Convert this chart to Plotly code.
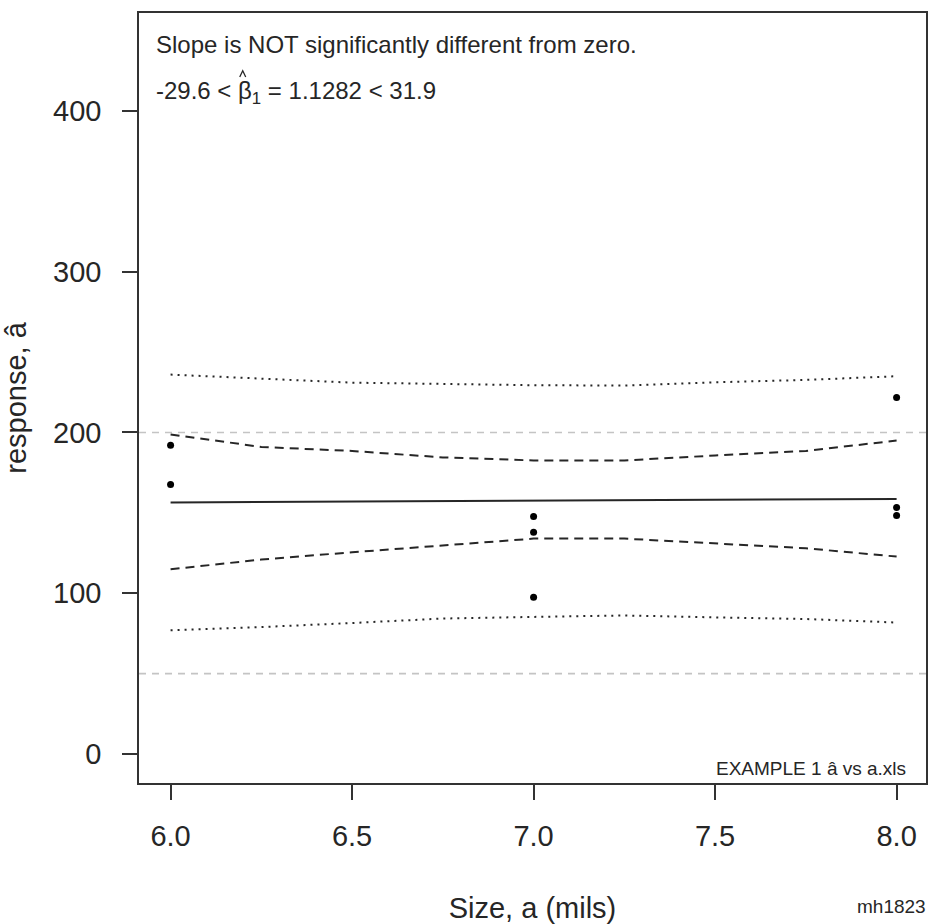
import plotly.graph_objects as go

# Observed responses
size_a = [6.0, 6.0, 7.0, 7.0, 7.0, 8.0, 8.0, 8.0]
response = [192.0, 167.7, 147.8, 138.0, 97.5, 221.7, 153.4, 148.4]

# Fitted line end points
fit_x = [6.0, 8.0]
fit_y = [156.5, 158.7]

# Confidence (dashed) and prediction (dotted) bounds
band_x = [6.0, 6.25, 6.5, 6.75, 7.0, 7.25, 7.5, 7.75, 8.0]
conf_upper = [198.8, 191.0, 188.5, 184.5, 182.6, 182.6, 185.7, 188.5, 195.0]
conf_lower = [114.9, 121.0, 125.5, 129.8, 134.0, 134.0, 131.0, 128.0, 122.8]
pred_upper = [236.0, 233.7, 231.0, 230.2, 229.4, 229.2, 231.2, 232.7, 235.0]
pred_lower = [77.0, 79.0, 81.5, 84.3, 85.3, 86.2, 85.0, 84.0, 81.8]

# Reference levels
ref_levels = [50, 200]

x_ticks = [6.0, 6.5, 7.0, 7.5, 8.0]
y_ticks = [0, 100, 200, 300, 400]

FONT = "Liberation Sans, Arial, sans-serif"
INK = "#262626"

fig = go.Figure()

for lvl in ref_levels:
    fig.add_shape(type="line", xref="paper", x0=0, x1=1.005, yref="y", y0=lvl, y1=lvl,
                  line=dict(color="#c4c4c4", width=1.6, dash="7px,6px"), layer="below")

fig.add_trace(go.Scatter(x=band_x, y=pred_upper, mode="lines",
                         line=dict(color=INK, width=2, dash="2px,5px")))
fig.add_trace(go.Scatter(x=band_x, y=pred_lower, mode="lines",
                         line=dict(color=INK, width=2, dash="2px,5px")))
fig.add_trace(go.Scatter(x=band_x, y=conf_upper, mode="lines",
                         line=dict(color=INK, width=2, dash="9px,6px")))
fig.add_trace(go.Scatter(x=band_x, y=conf_lower, mode="lines",
                         line=dict(color=INK, width=2, dash="9px,6px")))
fig.add_trace(go.Scatter(x=fit_x, y=fit_y, mode="lines",
                         line=dict(color=INK, width=2)))
fig.add_trace(go.Scatter(x=size_a, y=response, mode="markers",
                         marker=dict(color="black", size=7)))

fig.update_layout(
    width=930, height=924,
    margin=dict(l=139, r=2, t=13, b=140, pad=0),
    paper_bgcolor="white", plot_bgcolor="white",
    showlegend=False,
    font=dict(family=FONT, color=INK, size=29),
    xaxis=dict(range=[5.913, 8.081], tickvals=x_ticks, tickformat=".1f",
               ticks="outside", ticklen=15, tickwidth=1.5, tickcolor="#333",
               showline=True, mirror=True, linecolor="#333", linewidth=1.5,
               showgrid=False, zeroline=False, ticklabelstandoff=11,
               title=dict(text="Size, a (mils)", standoff=50,
                          font=dict(size=29))),
    yaxis=dict(range=[-18.0, 460.9], tickvals=y_ticks,
               ticks="outside", ticklen=15, tickwidth=1.5, tickcolor="#333",
               showline=True, mirror=True, linecolor="#333", linewidth=1.5,
               showgrid=False, zeroline=False, ticklabelstandoff=15,
               title=dict(text="response, â", standoff=24,
                          font=dict(size=29))),
)

fig.add_annotation(xref="paper", yref="paper", x=0.0, y=1.0,
                   xshift=15, yshift=-31, xanchor="left", yanchor="middle",
                   text="Slope is NOT significantly different from zero.",
                   showarrow=False, font=dict(size=24, color=INK))
fig.add_annotation(xref="paper", yref="paper", x=0.0, y=1.0,
                   xshift=15, yshift=-79, xanchor="left", yanchor="middle",
                   text="-29.6 < β<sub>1</sub> = 1.1282 < 31.9",
                   showarrow=False, font=dict(size=24, color=INK))
# circumflex (hat) drawn over the beta
fig.add_shape(type="path", xref="paper", yref="paper",
              path="M 0.1280 0.9170 L 0.1318 0.9250 L 0.1356 0.9170",
              line=dict(color=INK, width=1.3))
fig.add_annotation(xref="paper", yref="paper", x=1.0, y=0.0,
                   xshift=-18, yshift=15, xanchor="right", yanchor="middle",
                   text="EXAMPLE 1 â vs a.xls",
                   showarrow=False, font=dict(size=19, color=INK))
fig.add_annotation(xref="paper", yref="paper", x=1.0, y=0.0,
                   xshift=2, yshift=-123, xanchor="right", yanchor="middle",
                   text="mh1823",
                   showarrow=False, font=dict(size=19, color=INK))

fig.write_html("out.html")
